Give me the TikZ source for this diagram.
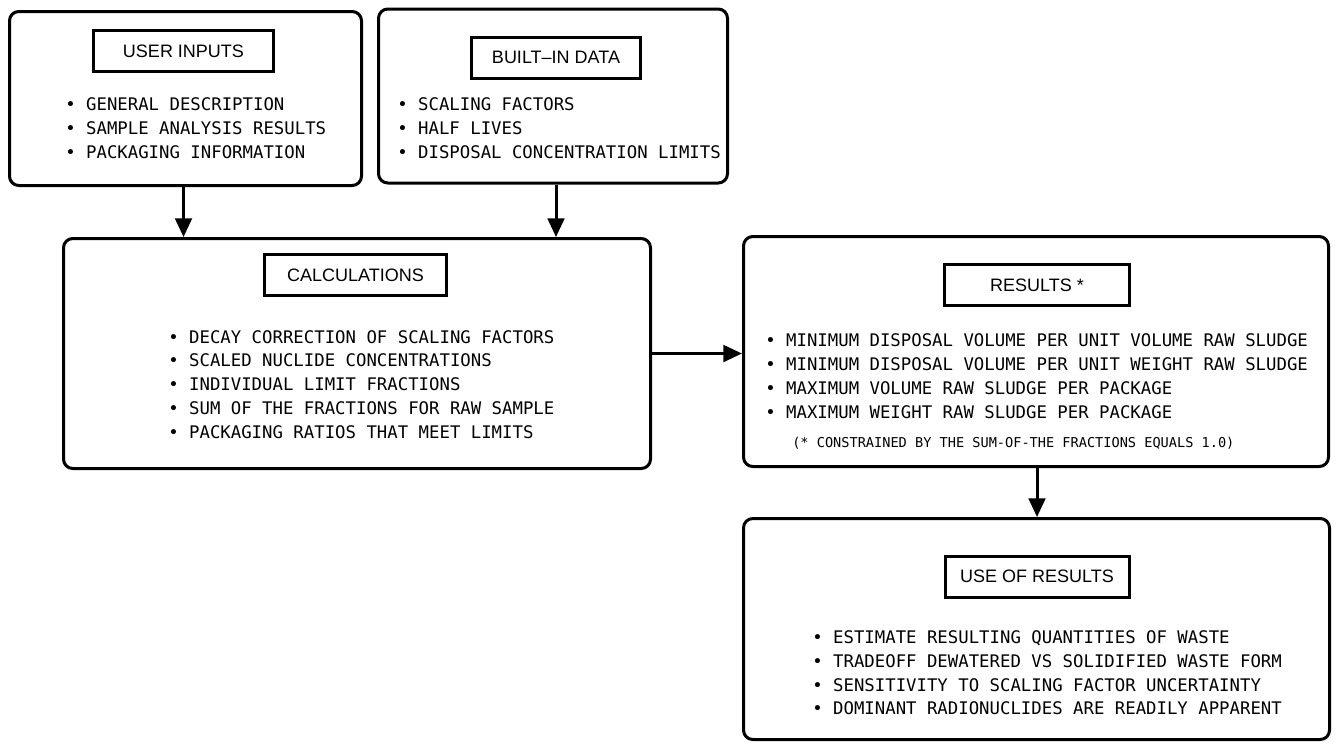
\documentclass[tikz,border=0pt]{standalone}
\usepackage{fontspec}
\setmainfont{Liberation Sans}
\newfontfamily\plotfont{DejaVu Sans Mono}
\usetikzlibrary{arrows.meta}

\begin{document}
\begin{tikzpicture}[x=0.75pt,y=0.75pt,yscale=-1,xscale=1,
	panel/.style={draw,line width=2.25pt,rounded corners=7pt,inner sep=0pt},
	heading/.style={draw,line width=2.25pt,inner sep=0pt,minimum height=30.75pt,font=\fontsize{13.5}{15}\selectfont},
	items/.style={anchor=west,align=left,inner sep=0pt,font=\plotfont\fontsize{13}{17.8}\selectfont},
	flow/.style={line width=2.25pt,-{Triangle[length=14pt,width=12.5pt]}}]
	\useasboundingbox (0,0) rectangle (1337,743);

	% Text Node
	\node [panel,minimum width=264pt,minimum height=130.5pt] (user) at (185.5,98.5) {};
	\node [heading,minimum width=135pt] (userT) at (183.5,51) {USER INPUTS};
	\node [items] (userL) at (65,128.3) {• GENERAL DESCRIPTION\\• SAMPLE ANALYSIS RESULTS\\• PACKAGING INFORMATION};
	% Text Node
	\node [panel,minimum width=261.75pt,minimum height=130.5pt] (built) at (553,96) {};
	\node [heading,minimum width=126.75pt] (builtT) at (556,57.5) {BUILT--IN DATA};
	\node [items] (builtL) at (397,128.3) {• SCALING FACTORS\\• HALF LIVES\\• DISPOSAL CONCENTRATION LIMITS};
	% Text Node
	\node [panel,minimum width=440.25pt,minimum height=172.5pt] (calc) at (357,353.5) {};
	\node [heading,minimum width=136.5pt] (calcT) at (355.5,275) {CALCULATIONS};
	\node [items] (calcL) at (168,384.4) {• DECAY CORRECTION OF SCALING FACTORS\\• SCALED NUCLIDE CONCENTRATIONS\\• INDIVIDUAL LIMIT FRACTIONS\\• SUM OF THE FRACTIONS FOR RAW SAMPLE\\• PACKAGING RATIOS THAT MEET LIMITS};
	% Text Node
	\node [panel,minimum width=438.75pt,minimum height=172.5pt] (res) at (1036,351.5) {};
	\node [heading,minimum width=138.75pt] (resT) at (1037,285) {RESULTS *};
	\node [items] (resL) at (765,376.25) {• MINIMUM DISPOSAL VOLUME PER UNIT VOLUME RAW SLUDGE\\• MINIMUM DISPOSAL VOLUME PER UNIT WEIGHT RAW SLUDGE\\• MAXIMUM VOLUME RAW SLUDGE PER PACKAGE\\• MAXIMUM WEIGHT RAW SLUDGE PER PACKAGE};
	\node [anchor=west,inner sep=0pt,font=\plotfont\fontsize{10.2}{12}\selectfont] (resN) at (792,443) {(* CONSTRAINED BY THE SUM-OF-THE FRACTIONS EQUALS 1.0)};
	% Text Node
	\node [panel,minimum width=439.5pt,minimum height=165.75pt] (use) at (1036.5,629) {};
	\node [heading,minimum width=138pt] (useT) at (1037,576.5) {USE OF RESULTS};
	\node [items] (useL) at (812,673) {• ESTIMATE RESULTING QUANTITIES OF WASTE\\• TRADEOFF DEWATERED VS SOLIDIFIED WASTE FORM\\• SENSITIVITY TO SCALING FACTOR UNCERTAINTY\\• DOMINANT RADIONUCLIDES ARE READILY APPARENT};

	% Connection
	\draw [flow] (userT |- user.south) -- (userT |- calc.north);
	% Connection
	\draw [flow] (builtT |- built.south) -- (builtT |- calc.north);
	% Connection
	\draw [flow] (calc.east) -- (calc.east -| res.west);
	% Connection
	\draw [flow] (resT |- res.south) -- (resT |- use.north);

\end{tikzpicture}
\end{document}
